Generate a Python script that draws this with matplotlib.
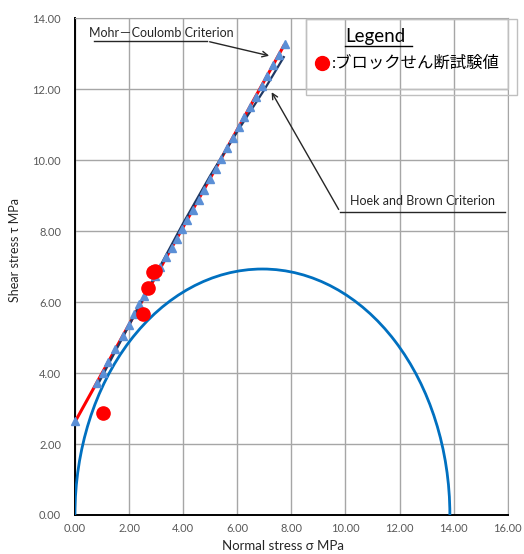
import matplotlib.pyplot as plt
from matplotlib.patches import Arc, Rectangle

plt.rcParams['font.family'] = ['Lato', 'Noto Sans CJK JP', 'DejaVu Sans']

# Mohr circle (principal stresses, MPa)
sigma3 = 0.0
sigma1 = 13.86

# block shear test results
test_sigma = [1.02, 2.52, 2.71, 2.87, 2.95]
test_tau = [2.88, 5.66, 6.39, 6.85, 6.88]

# Mohr-Coulomb line
mc_sigma = [0.00, 7.72]
mc_tau = [2.62, 13.22]

# triangle series along the envelope
tri_sigma = [0.00, 0.80, 1.02, 1.23, 1.48, 1.79, 2.00, 2.18, 2.38, 2.56, 2.75, 2.95,
             3.14, 3.36, 3.57, 3.76, 3.96, 4.16, 4.36, 4.57, 4.78, 4.99, 5.20, 5.41,
             5.62, 5.83, 6.05, 6.26, 6.47, 6.68, 6.90, 7.11, 7.33, 7.55, 7.76]
tri_tau = [2.65, 3.71, 4.01, 4.31, 4.68, 5.05, 5.36, 5.66, 5.94, 6.18, 6.45, 6.72,
           6.99, 7.28, 7.52, 7.78, 8.05, 8.32, 8.60, 8.88, 9.17, 9.46, 9.75, 10.04,
           10.33, 10.62, 10.92, 11.21, 11.50, 11.78, 12.08, 12.37, 12.67, 12.97, 13.27]

# Hoek and Brown envelope
hb_sigma = [0.85, 2.00, 3.00, 4.00, 5.00, 6.00, 7.00, 7.72]
hb_tau = [3.68, 5.34, 6.80, 8.22, 9.56, 10.80, 11.98, 12.90]

x_ticks = [0, 2, 4, 6, 8, 10, 12, 14, 16]
y_ticks = [0, 2, 4, 6, 8, 10, 12, 14]

fig = plt.figure(figsize=(5.24, 5.54), dpi=100)
ax = fig.add_axes([0.143, 0.0704, 0.826, 0.897])
ax.set_xlim(0, 16)
ax.set_ylim(0, 14)
ax.set_xticks(x_ticks)
ax.set_yticks(y_ticks)
ax.set_xticklabels([f"{v:.2f}" for v in x_ticks])
ax.set_yticklabels([f"{v:.2f}" for v in y_ticks])
ax.tick_params(length=0, labelsize=8, labelcolor="#595959")
ax.tick_params(axis="y", pad=10)
ax.tick_params(axis="x", pad=6)
ax.grid(True, color="#a6a6a6", lw=1.0)
ax.set_axisbelow(True)
for side in ("top", "right"):
    ax.spines[side].set_color("#a6a6a6")
for side in ("left", "bottom"):
    ax.spines[side].set_color("black")
    ax.spines[side].set_linewidth(1.4)

center = (sigma1 + sigma3) / 2
diam = sigma1 - sigma3
ax.add_patch(Arc((center, 0), diam, diam, theta1=0, theta2=180,
                 color="#0070c0", lw=2.0, zorder=3))

ax.plot(mc_sigma, mc_tau, color="#ff0000", lw=2.2, zorder=4)
ax.plot(hb_sigma, hb_tau, color="#1f3864", lw=1.6, zorder=4)
ax.plot(tri_sigma, tri_tau, ls="none", marker="^", ms=5.6, color="#5b8fd6",
        zorder=5, clip_on=False)
ax.plot(test_sigma, test_tau, ls="none", marker="o", ms=9.5, color="#ff0000", zorder=6)

ax.set_xlabel("Normal stress σ MPa", fontsize=9.5, color="#262626")
ax.xaxis.set_label_coords(0.48, -0.05)
ax.set_ylabel("Shear stress τ MPa", fontsize=9, color="#262626")
ax.yaxis.set_label_coords(-0.124, 0.533)

# annotations
ax.annotate("", xy=(7.28, 12.92), xytext=(4.88, 13.35),
            arrowprops=dict(arrowstyle="->", color="#262626", lw=1.0))
ax.plot([0.70, 4.88], [13.35, 13.35], color="#262626", lw=1.0)
ax.text(0.52, 13.58, "Mohr－Coulomb Criterion", fontsize=9, color="#262626",
        va="center", ha="left")

ax.annotate("", xy=(7.22, 11.98), xytext=(9.8, 8.54),
            arrowprops=dict(arrowstyle="->", color="#262626", lw=1.0))
ax.plot([9.8, 15.9], [8.54, 8.54], color="#262626", lw=1.0)
ax.text(10.15, 8.86, "Hoek and Brown Criterion", fontsize=9, color="#262626",
        va="center", ha="left")

# legend box
ax.add_patch(Rectangle((8.54, 11.83), 7.82, 2.14, fill=False, ec="#bfbfbf", lw=1.0,
                       clip_on=False, zorder=7))
ax.add_patch(Rectangle((8.54, 12.0), 7.46, 1.97, fill=False, ec="#bfbfbf", lw=1.0,
                       clip_on=False, zorder=7))
ax.text(9.98, 13.47, "Legend", fontsize=13.5, color="black", va="center", zorder=8)
ax.plot([9.98, 12.46], [13.22, 13.22], color="black", lw=1.0, zorder=8)
ax.plot([9.13], [12.73], ls="none", marker="o", ms=10, color="#ff0000",
        clip_on=False, zorder=8)
ax.text(9.5, 12.73, ":ブロックせん断試験値", fontsize=11.8, color="black",
        va="center", zorder=8)

fig.savefig("out.png", dpi=100)
